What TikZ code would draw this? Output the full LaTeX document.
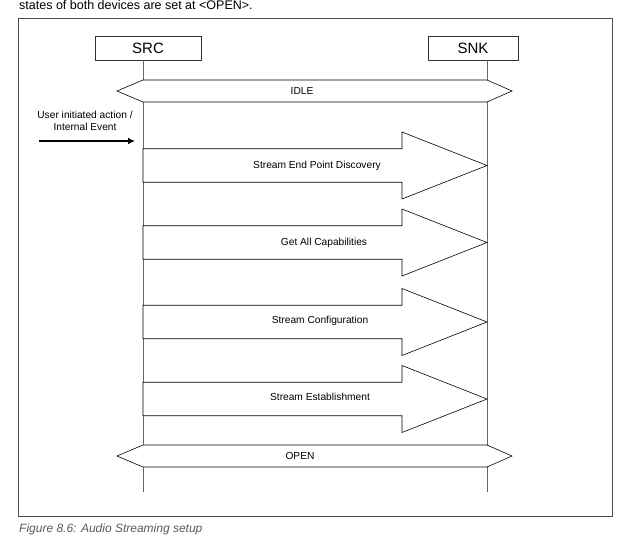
\documentclass[tikz,border=0pt]{standalone}
\usepackage{fontspec}
\setmainfont{Liberation Sans}
\usetikzlibrary{arrows.meta}
\begin{document}
\begin{tikzpicture}[x=1pt,y=-1pt,
  framebox/.style={draw=black!70,line width=1pt},
  entity/.style={draw=black!80,line width=0.6pt,minimum height=24pt,inner sep=0pt,font=\fontsize{15}{18}\selectfont},
  lifeline/.style={draw=black!60,line width=0.9pt},
  statebar/.style={draw=black,line width=0.6pt,fill=white},
  blockarrow/.style={draw=black,line width=0.6pt,fill=white},
  lbl/.style={font=\fontsize{10.2}{12}\selectfont,inner sep=0pt},
  blockarr/.pic={\draw[blockarrow] (143,-16.75) -- (402,-16.75) -- (402,-33.5) -- (487,0) -- (402,33.5) -- (402,16.75) -- (143,16.75) -- cycle;}
]
\useasboundingbox (0,0) rectangle (628,535);
% intro text and caption
\node[anchor=base west,inner sep=0pt,font=\fontsize{12.5}{14}\selectfont] (intro) at (19,10) {states of both devices are set at <OPEN>.};
\draw[framebox] (18.5,19) rectangle (612,516);
\node[anchor=base west,inner sep=0pt,text=black!65,font=\fontsize{12}{14}\selectfont\itshape] (caption) at (19,532.3) {Figure 8.6: Audio Streaming setup};
% entities
\node[entity,minimum width=106pt] (src) at (148,48) {SRC};
\node[entity,minimum width=90pt] (snk) at (473,48) {SNK};
% lifelines
\coordinate (srcTop) at (143,60);
\coordinate (srcEnd) at (143,492);
\coordinate (snkTop) at (487,60);
\coordinate (snkEnd) at (487,492);
\draw[lifeline] (srcTop) -- (srcEnd);
\draw[lifeline] (snkTop) -- (snkEnd);
% IDLE state
\draw[statebar] (117,91) -- (143,80) -- (487,80) -- (512,91) -- (487,102) -- (143,102) -- cycle;
\node[lbl] (idle) at (302,91) {IDLE};
% trigger
\node[lbl,align=center] (trigger) at (85,121) {User initiated action /\\Internal Event};
\coordinate (evA) at (39,141);
\coordinate (evB) at (135,141);
\draw[line width=1.8pt,-{Latex[length=7pt,width=7pt]}] (evA) -- (evB);
% block arrows
\pic at (0,165.5) {blockarr};
\node[lbl] (sepd) at (317,165.5) {Stream End Point Discovery};
\pic at (0,242.5) {blockarr};
\node[lbl] (gac) at (324,242.5) {Get All Capabilities};
\pic at (0,322) {blockarr};
\node[lbl] (scfg) at (320,321) {Stream Configuration};
\pic at (0,399) {blockarr};
\node[lbl] (sest) at (320,397) {Stream Establishment};
% OPEN state
\draw[statebar] (117,456) -- (143,445) -- (487,445) -- (512,456) -- (487,467) -- (143,467) -- cycle;
\node[lbl] (open) at (300,456) {OPEN};
\end{tikzpicture}
\end{document}
